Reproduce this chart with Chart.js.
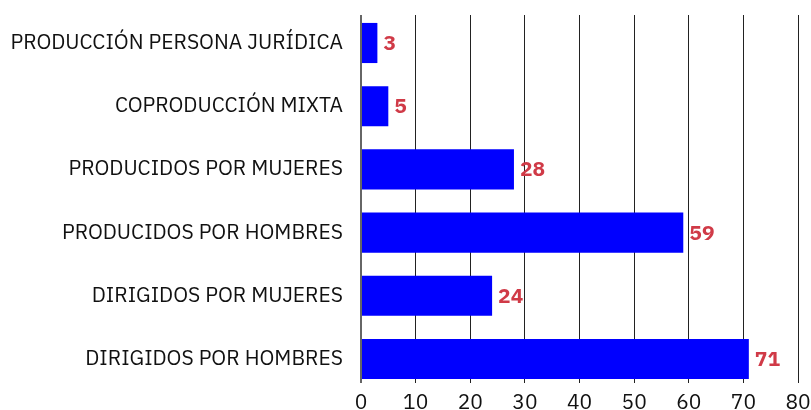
<!DOCTYPE html>
<html>
<head>
<meta charset="utf-8">
<script src="https://cdn.jsdelivr.net/npm/chart.js@4"></script>
<style>
  html, body { margin: 0; padding: 0; background: #fff; }
  #wrap { width: 811px; height: 410px; }
</style>
</head>
<body>
<div id="wrap"><canvas id="chart"></canvas></div>
<script>
const categories = [
  'PRODUCCIÓN PERSONA JURÍDICA',
  'COPRODUCCIÓN MIXTA',
  'PRODUCIDOS POR MUJERES',
  'PRODUCIDOS POR HOMBRES',
  'DIRIGIDOS POR MUJERES',
  'DIRIGIDOS POR HOMBRES'
];
const values = [3, 5, 28, 59, 24, 71];
const xTicks = [0, 10, 20, 30, 40, 50, 60, 70, 80];

const fontFamily = '"IBM Plex Sans", "Noto Sans", sans-serif';

// draws the value next to each bar
const valueLabels = {
  id: 'valueLabels',
  afterDatasetsDraw(chart) {
    const ctx = chart.ctx;
    const meta = chart.getDatasetMeta(0);
    ctx.save();
    ctx.fillStyle = '#d03a47';
    ctx.font = 'bold 21px ' + fontFamily;
    ctx.textAlign = 'left';
    ctx.textBaseline = 'middle';
    meta.data.forEach((bar, i) => {
      ctx.fillText(String(values[i]), bar.x + 6, bar.y + 1);
    });
    ctx.restore();
  }
};

const points = values.map((v, i) => ({ x: v, y: i }));

const ctx = document.getElementById('chart').getContext('2d');
const chart = new Chart(ctx, {
  type: 'bar',
  data: {
    datasets: [{
      data: points,
      backgroundColor: '#0000ff',
      borderWidth: 0,
      categoryPercentage: 1,
      barPercentage: 0.635
    }]
  },
  options: {
    indexAxis: 'y',
    responsive: true,
    maintainAspectRatio: false,
    animation: false,
    layout: { padding: { top: 15, right: 13, left: 0, bottom: 0 } },
    plugins: {
      legend: { display: false },
      tooltip: { enabled: false }
    },
    scales: {
      x: {
        type: 'linear',
        min: 0,
        max: 80,
        afterBuildTicks: (axis) => { axis.ticks = xTicks.map(v => ({ value: v })); },
        afterFit: (axis) => {
          axis.height = 27;
          axis.paddingLeft = 0;
          axis.paddingRight = 0;
        },
        grid: {
          color: (c) => c.tick && c.tick.value === 0 ? '#666' : '#222',
          lineWidth: (c) => c.tick && c.tick.value === 0 ? 2 : 1,
          drawTicks: false
        },
        border: { display: false },
        ticks: {
          color: '#111',
          font: { family: fontFamily, size: 21 },
          padding: 7
        }
      },
      y: {
        type: 'linear',
        reverse: true,
        offset: false,
        min: -0.443,
        max: 5.38,
        afterBuildTicks: (axis) => { axis.ticks = categories.map((c, i) => ({ value: i })); },
        afterFit: (axis) => {
          axis.width = 361;
          axis.paddingTop = 0;
          axis.paddingBottom = 0;
        },
        grid: { display: false, offset: false },
        border: { display: false },
        ticks: {
          color: '#111',
          font: { family: fontFamily, size: 21 },
          padding: 10,
          callback: (v) => categories[v]
        }
      }
    }
  },
  plugins: [valueLabels]
});
</script>
</body>
</html>
